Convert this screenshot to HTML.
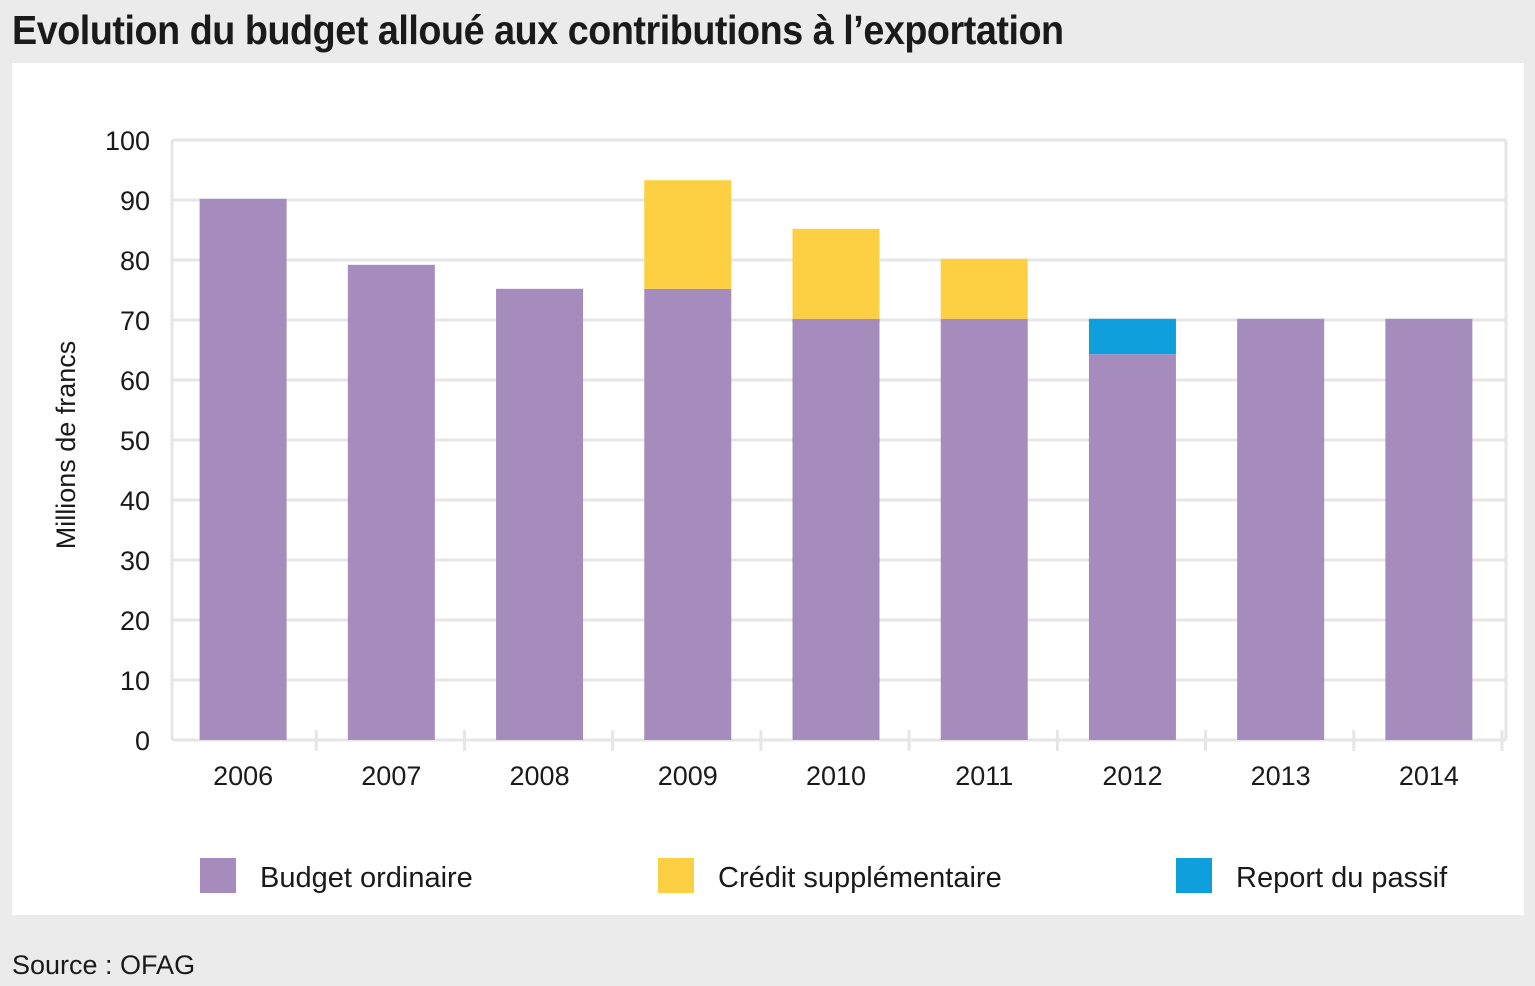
<!DOCTYPE html>
<html><head><meta charset="utf-8"><style>
body{margin:0;width:1535px;height:986px;background:#ebebeb;font-family:"Liberation Sans",sans-serif;position:relative;overflow:hidden}
.title{position:absolute;left:12px;top:10px;font-size:41px;line-height:41px;font-weight:bold;color:#1a1a1a;letter-spacing:-0.5px;transform:scaleX(0.92);transform-origin:left top;white-space:nowrap;z-index:2}
.panel{position:absolute;left:12px;top:63px;width:1512px;height:852px;background:#fff}
.src{position:absolute;left:12px;top:950px;font-size:27px;color:#1a1a1a}
</style></head><body>
<div class="panel"></div>
<div class="title">Evolution du budget alloué aux contributions à l’exportation</div>
<svg id="chart" width="1535" height="986" style="position:absolute;left:0;top:0"></svg>
<div class="src">Source : OFAG</div>
<script>
const categories=["2006","2007","2008","2009","2010","2011","2012","2013","2014"];
const budgetOrdinaire=[90.2,79.2,75.2,75.2,70.2,70.2,64.3,70.2,70.2];
const creditSupp=[0,0,0,18.1,15,10,0,0,0];
const reportPassif=[0,0,0,0,0,0,5.9,0,0];
const yTicks=[0,10,20,30,40,50,60,70,80,90,100];
const seriesNames=["Budget ordinaire","Crédit supplémentaire","Report du passif"];
const colors=["#a68bbd","#fdd043","#0f9fdc"];
const svg=document.getElementById('chart');const NS="http://www.w3.org/2000/svg";
const L=172,R=1506,T=140,B=740;
const y=v=>B-(v/100)*(B-T);
const bw=(R-L)/categories.length;
const xc=i=>L+bw*(i+0.5);
function mk(t,a,p){const e=document.createElementNS(NS,t);for(const k in a)e.setAttribute(k,a[k]);(p||svg).appendChild(e);return e;}
yTicks.forEach(v=>{
 const l=mk('line',{x1:L,x2:R,y1:y(v),y2:y(v),stroke:'#e6e6e6','stroke-width':3});
 
 
 const t=mk('text',{x:150,y:y(v)+10,'text-anchor':'end','font-size':27,fill:'#1a1a1a','font-family':'Liberation Sans'});
 t.textContent=v;
 
 
});
const lb=mk('line',{x1:L,x2:L,y1:T,y2:B,stroke:'#e6e6e6','stroke-width':3});


const rb=mk('line',{x1:R,x2:R,y1:T,y2:B,stroke:'#e6e6e6','stroke-width':3});


for(let i=1;i<=categories.length;i++){
 const tk=mk('line',{x1:L+bw*i-4,x2:L+bw*i-4,y1:B-10,y2:B+11,stroke:'#e6e6e6','stroke-width':3});
 
 
}
const series=[budgetOrdinaire,creditSupp,reportPassif];
categories.forEach((c,i)=>{
 let base=0;
 series.forEach((s,k)=>{
  const v=s[i];if(v>0){
   const r=mk('rect',{x:xc(i)-46.5,width:87,y:y(base+v),height:y(base)-y(base+v),fill:colors[k]});
   
   
   base+=v;}
 });
 const t=mk('text',{x:xc(i)-3,y:785,'text-anchor':'middle','font-size':27,fill:'#1a1a1a','font-family':'Liberation Sans'});
 t.textContent=c;
 
 
});
const yt=mk('text',{x:0,y:0,'font-size':27,fill:'#1a1a1a','text-anchor':'middle','transform':'translate(75,445) rotate(-90)','font-family':'Liberation Sans'});
yt.textContent="Millions de francs";


const lx=[200,658,1176];
seriesNames.forEach((n,k)=>{
 const g=mk('g',{});
 
 
 mk('rect',{x:lx[k],y:858,width:36,height:35,fill:colors[k]},g);
 const t=mk('text',{x:lx[k]+60,y:887,'font-size':29,fill:'#1a1a1a','font-family':'Liberation Sans'},g);
 t.textContent=n;
});
</script>
</body></html>
